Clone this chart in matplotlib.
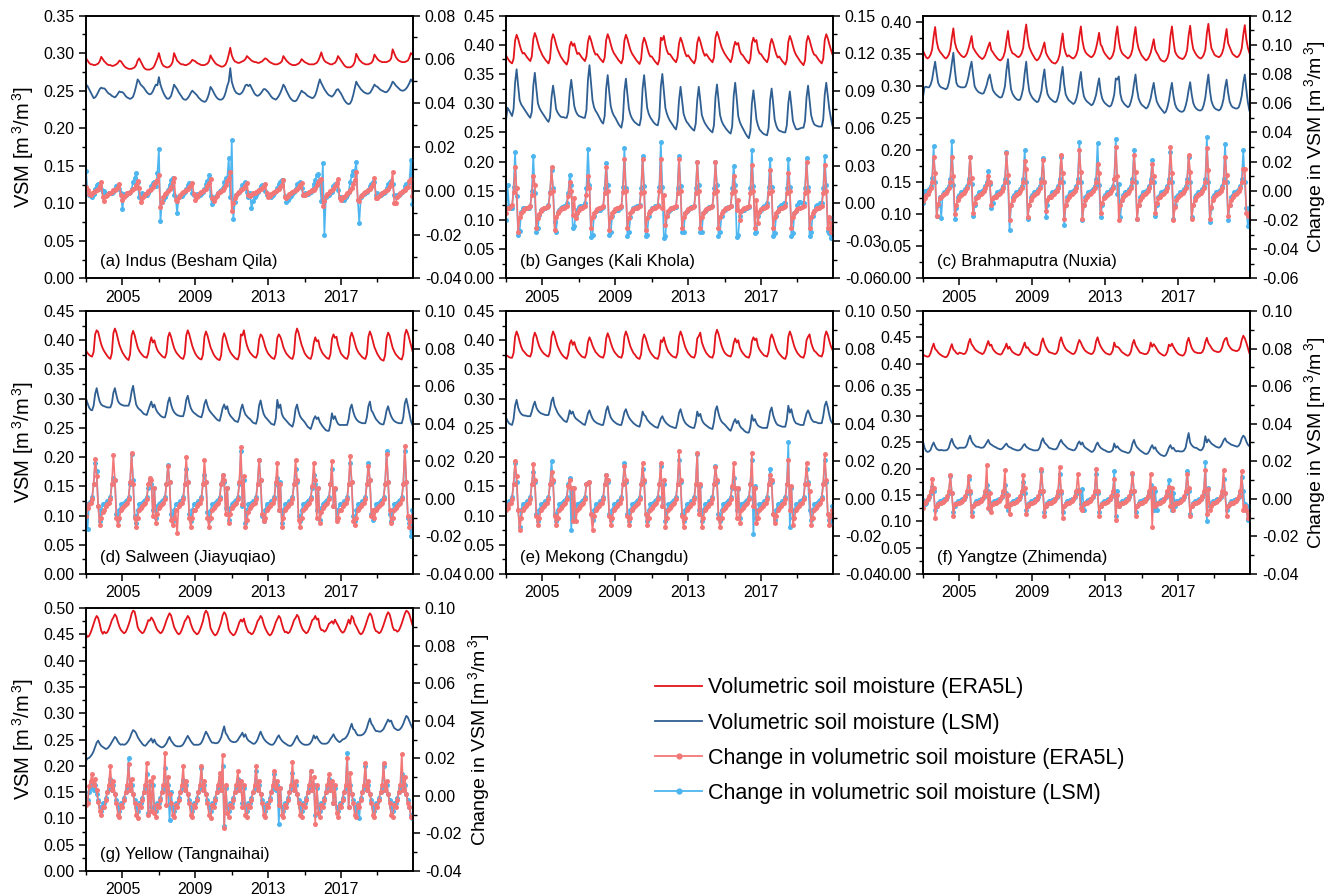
import numpy as np
import matplotlib.pyplot as plt
from matplotlib.lines import Line2D
from matplotlib.ticker import MultipleLocator, FixedLocator, FormatStrFormatter

plt.rcParams['font.family'] = ['Liberation Sans', 'DejaVu Sans']
plt.rcParams['mathtext.default'] = 'regular'
plt.rcParams['axes.unicode_minus'] = False

# monthly values Jan 2003 - Dec 2020, one row per year
# VSM in 1e-3 m3/m3, change in VSM in 1e-4 m3/m3

# (a) Indus
a_vsm_era5l = """
293 290 287 285 285 284 284 285 286 289 295 292
289 287 285 284 284 283 283 284 285 287 290 289
286 283 281 280 279 279 279 280 281 284 290 293
289 285 281 279 278 278 278 279 280 283 288 293
300 292 286 283 282 281 281 282 284 288 300 295
290 288 286 285 285 284 284 285 286 288 291 290
289 287 286 285 284 284 284 285 286 289 297 293
290 287 285 284 283 282 282 283 285 290 298 307
297 292 289 288 287 287 288 289 290 292 296 294
292 290 289 288 288 287 287 288 289 291 293 292
290 288 287 286 285 285 285 286 287 289 296 293
290 288 286 285 284 284 284 285 286 288 292 290
288 287 286 285 285 285 285 286 287 290 295 301
294 290 288 287 286 285 285 286 287 290 296 293
290 287 284 282 281 281 281 282 284 288 299 295
291 289 287 286 285 285 285 286 287 290 298 295
292 290 289 288 288 288 288 289 290 293 305 300
295 292 290 289 288 288 288 289 290 294 300 298
"""
a_vsm_lsm = """
258 256 252 248 244 240 241 244 248 252 254 253
253 251 248 246 245 243 242 241 243 246 249 248
248 246 243 241 240 239 240 242 248 256 265 262
258 256 254 251 248 246 245 246 249 254 258 257
268 258 252 247 243 240 239 240 243 250 258 255
252 248 245 242 239 238 238 240 243 247 250 248
246 244 241 239 237 236 235 236 240 246 255 252
248 244 241 239 238 238 239 242 248 256 262 280
262 255 250 247 246 245 246 248 252 257 258 256
258 254 250 246 244 243 244 246 249 252 252 250
248 245 242 240 239 238 240 243 247 252 258 255
250 246 242 239 237 236 236 238 242 246 250 248
247 245 243 242 241 240 241 244 250 258 265 260
256 252 249 246 244 243 242 244 247 251 252 249
246 242 238 235 233 232 233 237 244 253 262 258
255 252 250 248 247 246 246 247 250 254 258 256
255 253 251 250 249 248 248 250 253 257 262 260
257 255 253 251 250 250 251 253 256 260 265 262
"""
a_chg_era5l = """
18 5 -15 -20 -12 -6 0 4 10 22 40 -30
-45 -25 -18 -12 -8 -4 2 6 10 18 30 -20
-40 -30 -20 -12 -8 -4 2 8 14 28 45 15
-50 -35 -25 -15 -8 -2 4 10 18 30 40 50
70 -75 -50 -30 -15 -8 0 8 18 40 60 -40
-45 -30 -20 -12 -6 0 5 10 18 25 35 -15
-40 -28 -18 -10 -5 0 5 10 20 35 55 -35
-45 -32 -22 -12 -6 -2 4 12 25 45 60 85
-90 -55 -35 -20 -10 -4 2 8 15 22 35 -20
-25 -18 -12 -8 -4 0 4 8 12 22 30 -12
-30 -22 -14 -8 -4 0 5 10 18 28 50 -30
-35 -25 -16 -10 -5 0 4 10 18 25 35 -20
-20 -14 -10 -6 -2 2 6 12 25 40 50 55
-70 -45 -25 -15 -8 -2 4 10 20 35 55 -35
-40 -30 -28 -20 -10 -4 4 14 30 50 85 -40
-45 -25 -18 -12 -6 0 5 10 18 30 60 -35
-35 -22 -15 -8 -4 0 4 10 20 35 85 -55
-55 -30 -20 -10 -4 0 5 12 18 45 55 -25
"""
a_chg_lsm = """
90 -10 -20 -25 -30 -15 10 25 30 20 10 -5
0 -15 -20 -10 -10 -12 -5 10 20 25 10 -10
-85 -15 -20 -10 -8 -5 10 40 60 80 40 -30
-35 -10 -15 -20 -18 -10 5 20 35 40 20 80
190 -140 -50 -40 -30 -15 5 25 50 60 -20 -30
-100 -30 -25 -25 -15 -5 10 25 35 30 -10 -20
-20 -15 -25 -20 -15 -5 10 30 45 70 -25 -60
-35 -30 -20 -10 0 5 15 40 60 55 150 -30
230 -130 -50 -20 -10 -5 10 25 30 40 -5 -30
-10 -80 -45 -30 -20 -5 5 20 25 25 0 -20
-20 -25 -30 -20 -10 0 15 30 40 50 50 -25
-50 -40 -35 -25 -15 -5 10 30 35 40 15 -20
-10 -15 -15 -10 -5 5 30 50 70 75 40 -45
125 -200 -30 -25 -20 -10 -5 20 30 35 5 -30
-30 -40 -40 -30 -20 -5 40 70 90 90 130 -40
-145 -30 -20 -15 -10 -5 5 20 30 40 40 -20
-10 -20 -20 -10 -10 -5 15 30 40 45 30 -20
-30 -20 -20 -15 -5 0 20 30 35 40 140 -60
"""

# (b) Ganges
b_vsm_era5l = """
382 377 373 370 368 376 407 417 410 400 391 385
386 382 378 375 372 380 410 420 413 403 394 388
382 378 374 371 368 376 408 418 411 401 392 386
380 376 372 369 366 374 398 405 398 402 392 384
386 382 378 375 372 380 405 415 408 398 389 383
384 380 376 373 370 378 408 418 411 401 392 386
382 378 374 371 368 376 407 417 410 400 391 385
381 377 373 370 367 375 402 412 405 395 386 380
380 376 372 369 366 374 412 408 415 400 390 384
384 380 376 373 370 378 402 412 405 395 386 380
382 378 374 371 368 376 403 413 406 396 387 381
384 380 376 373 370 378 412 422 415 405 396 390
385 381 377 374 370 378 395 405 400 403 390 384
382 378 374 371 368 376 402 412 405 408 392 385
384 380 376 373 370 378 400 410 403 393 384 378
380 376 372 369 366 374 405 415 408 398 389 383
379 375 371 368 365 373 405 415 408 398 389 383
382 378 374 371 368 376 408 418 411 401 392 384
"""
b_vsm_lsm = """
270 292 288 283 278 290 335 358 330 305 298 294
290 286 282 278 275 285 330 352 325 300 292 287
283 279 275 271 268 276 310 330 312 290 284 280
277 276 276 275 275 285 320 340 318 295 286 281
278 277 276 275 275 288 340 365 335 305 293 287
283 278 273 268 265 278 325 348 320 295 285 279
275 270 265 261 258 272 320 342 315 290 280 274
270 267 265 263 262 275 325 348 320 292 282 276
272 268 265 263 262 276 328 350 322 292 282 275
270 266 262 258 255 268 305 328 305 282 274 268
265 261 258 255 253 265 305 328 305 280 272 266
262 258 255 252 250 262 310 332 306 280 270 264
260 256 253 250 248 260 312 335 308 278 268 262
257 252 247 243 240 252 300 322 298 272 262 255
252 249 247 246 245 258 305 325 300 272 262 256
253 252 251 250 250 262 300 320 296 270 262 256
255 256 257 258 258 270 310 330 305 280 270 264
262 261 260 260 260 272 315 335 312 290 275 262
"""
b_chg_era5l = """
-77 -40 -35 -25 -15 90 287 120 -230 -110 -80 -60
-45 -40 -35 -30 -20 70 217 150 -200 -120 -85 -60
-45 -40 -35 -30 -20 80 287 100 -210 -110 -80 -60
-45 -40 -35 -30 -20 60 170 100 -90 40 -120 -80
-50 -40 -35 -30 -20 70 217 120 -200 -110 -80 -60
-45 -40 -35 -30 -20 80 287 100 -210 -110 -80 -60
-45 -40 -35 -30 -20 90 357 100 -200 -120 -80 -60
-45 -40 -35 -30 -20 80 357 90 -210 -120 -80 -60
-45 -40 -35 -30 -20 100 357 -40 70 -170 -100 -60
-45 -40 -35 -30 -20 80 357 100 -200 -110 -80 -60
-45 -40 -35 -30 -20 80 333 100 -200 -110 -80 -60
-45 -40 -35 -30 -20 80 333 100 -200 -110 -80 -60
-45 -40 -35 -30 -20 80 217 100 -50 30 -130 -60
-45 -40 -35 -30 -20 80 310 100 -200 30 -160 -70
-45 -40 -35 -30 -20 80 263 100 -200 -110 -80 -60
-45 -40 -35 -30 -20 80 240 100 -200 -110 -80 -60
-45 -40 -35 -30 -20 80 333 100 -200 -110 -80 -60
-45 -40 -35 -30 -20 80 310 100 -200 -110 -230 -150
"""
b_chg_lsm = """
-133 150 -25 -40 -40 130 413 60 -250 -220 -70 -40
-40 -40 -40 -40 -20 100 380 80 -230 -200 -90 -50
-50 -40 -40 -30 -10 90 263 120 -150 -230 -70 -50
-40 -30 -20 -20 0 80 230 150 -200 -180 -90 -50
-30 -20 -20 -20 0 120 436 150 -270 -250 -100 -60
-50 -50 -50 -40 -30 120 324 150 -250 -230 -100 -60
-50 -50 -50 -40 -30 130 440 120 -260 -230 -110 -60
-40 -30 -20 -20 -10 120 380 140 -260 -250 -100 -60
-40 -40 -20 -20 -10 130 487 130 -280 -260 -100 -70
-50 -40 -40 -30 -30 120 380 140 -230 -230 -80 -60
-50 -40 -30 -30 -20 120 333 150 -230 -230 -80 -60
-50 -40 -30 -30 -20 120 333 150 -260 -230 -100 -60
-50 -40 -30 -30 -20 120 300 150 -270 -250 -100 -60
-50 -50 -40 -40 -30 120 427 140 -240 -230 -100 -70
-50 -30 -20 -10 0 130 357 130 -260 -240 -100 -60
-30 -10 -10 0 0 120 357 130 -260 -240 -80 -60
-10 10 10 0 0 120 366 130 -260 -230 -100 -60
-20 -10 -10 0 0 120 380 150 -220 -240 -280 -120
"""

# (c) Brahmaputra
c_vsm_era5l = """
355 350 345 343 345 349 357 377 392 370 359 354
351 348 345 343 345 349 357 375 390 368 359 354
351 348 346 345 347 351 359 368 378 360 356 352
349 346 344 342 344 348 355 362 368 356 353 349
346 343 341 340 342 346 354 371 386 364 356 351
350 348 346 345 347 351 359 381 396 374 361 355
350 346 342 340 342 346 352 360 368 352 347 343
340 337 336 335 337 341 349 367 382 360 351 346
348 346 344 343 345 349 357 378 393 371 359 353
350 348 346 345 347 351 359 370 383 365 361 354
350 347 344 342 344 348 356 378 393 371 358 352
349 347 345 343 345 349 357 377 392 370 359 353
348 345 342 340 342 346 352 362 373 357 352 348
343 340 339 338 340 344 352 378 393 371 354 349
346 344 343 342 344 348 356 379 394 372 358 353
349 346 344 343 345 349 357 382 397 375 359 354
349 347 346 345 347 351 359 374 389 367 361 355
350 348 346 345 347 351 359 380 395 373 360 352
"""
c_vsm_lsm = """
283 298 299 298 298 302 310 325 338 320 305 300
298 297 296 295 297 305 318 335 352 325 305 300
299 298 298 298 299 305 315 328 338 318 300 295
292 290 289 288 289 295 302 312 318 305 294 290
287 285 283 282 283 290 300 325 342 315 295 288
284 281 279 278 279 286 297 320 338 310 292 286
282 279 277 275 276 283 292 312 326 302 288 283
280 278 276 275 276 283 293 315 330 303 287 282
278 276 274 272 274 280 290 308 322 298 284 279
276 274 272 270 272 278 286 300 312 292 281 276
273 271 269 268 270 277 287 312 310 315 288 278
274 271 269 267 269 276 286 303 318 295 281 275
271 269 267 265 267 273 281 294 305 288 276 271
267 264 261 258 260 267 277 293 305 285 272 266
263 261 260 260 262 269 279 294 306 287 274 268
265 263 262 262 264 271 282 302 318 293 277 270
266 264 263 262 264 270 280 298 310 290 276 270
267 266 265 265 267 274 285 305 318 295 275 262
"""
c_chg_era5l = """
-73 -50 -30 -20 0 20 60 234 120 -170 -90 -50
-40 -30 -25 -15 0 20 60 234 100 -160 -100 -60
-40 -30 -25 -15 0 20 60 234 90 -150 -80 -50
-40 -30 -25 -15 0 20 50 102 60 -100 -50 -40
-40 -30 -25 -15 0 20 60 256 110 -200 -100 -60
-40 -30 -25 -15 0 20 60 203 150 -180 -100 -60
-40 -30 -25 -15 0 20 60 212 60 -140 -60 -40
-40 -30 -20 -10 0 20 60 247 120 -190 -100 -60
-40 -30 -25 -15 0 20 60 278 130 -190 -100 -60
-40 -30 -25 -15 0 20 60 181 120 -150 -80 -50
-40 -30 -25 -15 0 20 80 300 100 -200 -100 -60
-40 -30 -25 -15 0 20 60 243 130 -190 -100 -60
-40 -30 -25 -15 0 20 60 181 100 -150 -80 -50
-40 -30 -25 -15 0 20 60 300 120 -200 -110 -60
-40 -30 -25 -15 0 20 60 243 130 -190 -100 -60
-40 -30 -25 -15 0 20 60 291 140 -190 -110 -60
-40 -30 -25 -15 0 20 60 234 110 -170 -100 -60
-40 -30 -25 -15 0 20 60 146 150 -150 -170 -150
"""
c_chg_lsm = """
-80 0 0 0 10 30 90 304 60 -170 -100 -40
-183 -20 -10 0 10 30 80 344 40 -190 -120 -40
-30 -10 -10 0 10 30 80 234 50 -170 -100 -40
-30 -10 -10 0 10 30 60 138 50 -120 -80 -40
-30 -10 -10 0 10 30 80 269 60 -266 -100 -40
-30 -10 -10 0 10 30 80 278 60 -190 -100 -40
-30 -10 -10 0 10 30 80 225 60 -180 -100 -40
-30 -10 -10 0 10 30 80 234 60 -236 -100 -40
-30 -10 -10 0 10 30 80 331 60 -200 -100 -40
-30 -10 -10 0 10 30 80 326 40 -180 -100 -40
-30 -10 -10 0 10 30 80 357 -20 50 -180 -60
-30 -10 -10 0 10 30 80 278 60 -190 -100 -40
-30 -10 -10 0 10 30 80 208 60 -170 -100 -40
-30 -10 -10 0 10 30 80 265 60 -190 -100 -40
-30 -10 -10 0 10 30 80 234 60 -180 -100 -40
-30 -10 -10 0 10 30 80 366 60 -214 -120 -40
-30 -10 -10 0 10 30 80 322 60 -200 -100 -40
-30 -10 -10 0 10 30 80 278 60 -120 -244 -120
"""

# (d) Salween
d_vsm_era5l = """
382 378 375 373 372 380 410 417 414 403 393 386
381 377 373 370 368 378 412 420 413 402 392 385
379 375 371 368 366 376 408 416 409 398 388 382
378 375 372 371 370 378 395 405 396 400 390 383
379 376 373 371 370 378 405 413 406 396 387 381
377 374 371 369 368 376 408 417 410 400 390 383
377 373 370 368 367 375 406 415 408 398 388 382
376 372 369 367 366 374 403 412 405 395 386 380
376 373 370 368 367 376 410 408 417 402 391 384
379 376 373 371 370 377 401 410 407 399 389 382
377 374 371 369 368 376 404 410 406 398 388 382
377 374 371 369 368 377 410 420 413 402 392 385
378 374 371 369 368 376 395 405 398 400 388 382
377 374 371 369 368 376 402 410 404 406 392 384
377 374 371 369 368 376 405 413 406 396 387 381
377 374 371 369 368 376 406 415 408 398 388 382
376 372 368 366 365 374 404 413 408 397 387 381
376 373 370 368 367 376 409 418 412 402 392 382
"""
d_vsm_lsm = """
300 292 285 281 280 288 308 318 305 295 290 288
287 286 285 285 285 292 310 318 306 296 292 290
289 288 288 288 288 296 312 322 305 290 285 282
280 277 274 273 272 280 288 295 285 290 282 277
274 271 269 268 268 278 294 302 290 282 277 274
272 271 270 270 270 280 298 305 293 284 279 276
274 272 270 269 268 277 291 298 288 281 277 274
271 268 265 263 262 272 284 290 282 287 276 271
268 265 262 261 260 268 282 290 280 273 270 267
265 262 259 258 257 267 288 297 284 274 269 266
263 260 257 256 255 266 298 284 290 274 268 265
262 259 256 254 252 262 282 290 278 270 266 263
260 256 252 250 248 256 265 270 265 268 260 256
252 249 246 245 245 256 275 265 270 262 257 255
255 255 255 255 255 265 283 290 278 270 265 262
260 259 258 258 258 268 287 295 280 276 270 265
262 259 257 256 256 266 280 287 277 270 265 262
260 259 258 258 258 268 292 300 288 275 262 255
"""
d_chg_era5l = """
-89 -50 -30 -20 0 80 213 120 -40 -140 -100 -70
-60 -40 -30 -20 0 80 232 100 -100 -140 -100 -60
-50 -40 -30 -20 0 90 244 80 -100 -150 -100 -60
-50 -40 -30 -20 0 80 113 100 -90 60 -130 -80
-50 -40 -30 -20 0 80 176 90 -110 -140 -100 -60
-182 -40 -30 -20 0 80 222 90 -100 -150 -100 -60
-60 -40 -30 -20 0 80 207 90 -100 -150 -100 -60
-50 -40 -30 -20 0 80 129 100 -80 60 -130 -80
-50 -40 -30 -20 0 90 275 -30 120 -150 -110 -70
-50 -40 -30 -20 0 80 207 100 -80 -120 -100 -60
-50 -40 -30 -20 0 90 191 -60 80 -150 -100 -60
-50 -40 -30 -20 0 80 207 100 -110 -150 -100 -60
-50 -40 -30 -20 0 70 191 100 -100 60 -130 -70
-50 -40 -30 -20 0 80 200 -40 60 -120 -100 -60
-60 -40 -30 -20 0 80 228 90 -120 -140 -100 -60
-50 -40 -30 -20 0 80 176 100 -90 -60 -100 -60
-50 -40 -30 -20 0 80 241 90 -60 -130 -100 -60
-50 -40 -30 -20 0 80 281 90 -90 -150 -120 -90
"""
d_chg_lsm = """
-30 -160 -20 -10 10 80 191 150 -40 -120 -60 -30
-30 -20 -10 -5 10 80 113 100 -80 -110 -60 -30
-30 -20 -10 -5 10 80 238 100 -90 -130 -60 -30
-30 -20 -10 -5 10 60 98 80 -60 60 -100 -40
-30 -20 -10 -5 10 80 182 90 -80 -120 -60 -30
-30 -20 -10 -5 10 80 160 90 -80 -120 -60 -30
-30 -20 -10 -5 10 80 129 90 -70 -110 -60 -30
-30 -20 -10 -5 10 80 129 90 -50 60 -110 -50
-30 -20 -10 -5 10 80 253 -40 100 -130 -60 -30
-30 -20 -10 -5 10 80 207 100 -90 -120 -60 -30
-30 -20 -10 -5 10 80 113 -60 90 -130 -60 -30
-30 -20 -10 -5 10 80 160 90 -90 -120 -60 -30
-30 -20 -10 -5 10 60 129 80 -60 60 -110 -50
-30 -20 -10 -5 10 80 160 -40 50 -100 -60 -30
-30 -20 -10 -5 10 80 191 90 -90 -120 -60 -30
-30 -20 -10 -5 10 80 191 100 -80 -110 -60 -30
-30 -20 -10 -5 10 80 253 90 -80 -120 -60 -30
-30 -20 -10 -5 10 80 253 90 -100 -130 -198 -60
"""

# (e) Mekong
e_vsm_era5l = """
375 373 371 370 370 378 406 415 408 398 389 383
380 377 374 373 372 380 404 413 407 397 389 384
380 377 375 373 372 380 406 415 409 399 390 384
379 375 372 370 368 376 394 400 392 397 388 382
378 375 372 371 370 377 397 405 399 391 385 380
377 374 372 371 370 378 403 412 405 396 388 382
378 375 372 371 370 378 406 415 408 398 389 383
378 375 371 369 368 376 401 410 404 395 386 380
376 373 370 369 368 376 400 397 405 394 386 380
377 374 372 371 370 378 406 415 408 398 389 383
378 375 372 371 370 378 403 407 413 397 389 383
378 375 372 371 370 378 409 418 411 401 391 384
379 376 374 373 372 379 395 403 396 400 388 382
378 375 372 371 370 378 398 405 400 403 390 384
380 377 374 373 372 380 402 410 404 395 387 381
377 374 371 369 368 376 406 415 408 398 389 383
378 375 372 371 370 378 400 406 410 396 388 382
380 377 374 373 372 380 406 415 409 399 390 384
"""
e_vsm_lsm = """
268 262 258 256 255 265 288 298 285 278 274 272
271 271 270 270 270 278 288 295 285 280 277 275
274 273 272 272 272 282 296 302 288 282 276 272
269 266 263 261 260 268 280 274 278 270 266 264
262 260 258 256 255 264 275 280 272 266 262 260
258 257 256 255 255 266 280 287 276 268 264 261
259 257 256 255 255 265 277 282 274 268 264 261
258 256 254 253 252 262 278 272 270 264 261 258
256 254 252 251 250 258 266 270 264 260 257 255
253 252 251 250 250 261 276 282 272 264 259 256
254 252 251 250 250 260 278 270 274 264 259 256
254 252 250 249 248 260 280 287 275 266 261 258
256 253 250 247 245 252 260 265 258 262 254 250
248 245 243 242 242 252 272 262 265 258 254 252
251 250 250 250 250 262 278 285 272 264 258 255
254 253 252 252 252 264 288 276 282 270 262 258
257 256 255 255 255 265 275 280 274 266 262 260
260 259 258 258 258 270 288 295 285 272 262 258
"""
e_chg_era5l = """
-60 -50 -30 -20 0 80 200 120 -60 -167 -100 -60
-50 -40 -30 -20 0 80 185 100 -90 -140 -100 -60
-50 -40 -30 -20 0 80 144 100 -90 -140 -100 -60
-50 -40 -30 -20 0 70 98 60 -120 60 -120 -60
-50 -40 -30 -20 0 80 82 90 -80 -167 -90 -60
-50 -40 -30 -20 0 80 129 100 -90 -140 -100 -60
-50 -40 -30 -20 0 80 176 100 -90 -140 -100 -60
-50 -40 -30 -20 0 80 191 100 -80 -140 -100 -60
-50 -40 -30 -20 0 80 191 -40 100 -150 -100 -60
-50 -40 -30 -20 0 80 253 100 -90 -150 -100 -60
-50 -40 -30 -20 0 80 244 -80 80 -150 -100 -60
-50 -40 -30 -20 0 80 169 100 -100 -150 -100 -60
-50 -40 -30 -20 0 70 191 60 -100 60 -130 -60
-50 -40 -30 -20 0 80 244 -40 60 -130 -100 -60
-50 -40 -30 -20 0 80 129 100 -80 -130 -90 -60
-50 -40 -30 -20 0 80 207 -60 70 -140 -100 -60
-50 -40 -30 -20 0 80 191 80 40 -140 -100 -60
-50 -40 -30 -20 0 80 238 100 -80 -140 -90 -60
"""
e_chg_lsm = """
-30 -20 -10 -5 10 80 191 90 -60 -151 -60 -30
-30 -20 -10 -5 10 80 144 90 -80 -120 -60 -30
-30 -20 -10 -5 10 80 200 90 -80 -120 -60 -30
-30 -20 -10 -5 10 80 113 -167 60 -100 -60 -30
-30 -20 -10 -5 10 80 82 90 -80 -110 -60 -30
-30 -20 -10 -5 10 80 129 90 -80 -110 -60 -30
-30 -20 -10 -5 10 80 191 90 -80 -120 -60 -30
-30 -20 -10 -5 10 80 160 90 -80 -120 -60 -30
-30 -20 -10 -5 10 80 176 -40 80 -120 -60 -30
-30 -20 -10 -5 10 80 207 90 -80 -120 -60 -30
-30 -20 -10 -5 10 80 241 -60 70 -120 -60 -30
-30 -20 -10 -5 10 80 176 90 -80 -120 -60 -30
-30 -20 -10 -5 10 60 113 60 -60 50 -100 -30
-30 -20 -10 -5 10 80 207 -188 70 -100 -60 -30
-30 -20 -10 -5 10 80 160 90 -80 -110 -60 -30
-30 -20 -10 -5 10 80 300 -151 60 -100 -60 -30
-30 -20 -10 -5 10 80 160 90 -60 -110 -60 -30
-30 -20 -10 -5 10 80 207 90 -80 -110 -136 -40
"""

# (f) Yangtze
f_vsm_era5l = """
418 415 414 413 414 420 430 438 428 425 421 418
416 414 413 412 414 420 429 437 427 424 420 418
421 420 419 418 420 426 439 447 437 433 428 425
423 421 420 418 420 426 435 443 434 436 428 424
421 419 418 417 419 425 430 438 428 432 426 422
420 418 417 416 418 424 432 440 430 431 426 422
420 418 417 416 418 424 440 448 438 431 426 422
421 420 419 418 420 426 442 450 440 433 428 425
423 421 419 418 420 426 437 445 440 433 428 424
422 420 419 418 420 426 442 450 440 433 428 424
421 419 418 417 419 425 440 432 432 430 426 422
420 418 416 415 417 423 437 445 435 430 425 421
420 419 418 418 420 426 440 432 437 433 428 423
420 418 416 415 417 423 436 433 438 432 427 422
419 417 416 415 417 423 441 449 439 430 425 422
421 420 420 420 422 428 441 449 439 435 430 426
424 423 422 422 424 430 441 447 449 437 432 428
426 425 424 424 426 432 445 453 448 440 430 420
"""
f_vsm_lsm = """
252 240 234 232 233 236 244 250 243 238 236 235
236 235 235 235 236 240 250 257 248 243 240 238
240 240 240 240 241 246 256 263 253 248 245 242
242 241 240 240 241 245 250 255 248 246 244 242
241 239 238 237 238 241 245 248 243 241 240 238
237 236 235 235 236 239 244 247 242 240 238 237
236 235 235 235 236 241 252 258 250 247 244 240
239 238 237 237 238 243 250 255 249 246 243 240
238 237 236 235 236 240 248 252 246 250 243 240
238 236 234 232 233 237 245 250 244 240 238 236
235 233 232 232 233 236 248 240 243 239 236 234
233 232 231 230 231 236 248 255 246 241 238 235
233 231 229 228 229 233 240 245 238 241 234 231
228 226 225 224 226 232 240 245 238 240 235 233
234 233 233 233 235 240 255 268 250 245 242 240
240 238 236 235 237 243 262 250 256 252 248 246
244 242 241 240 242 247 254 258 252 250 248 246
245 244 243 242 244 249 258 263 260 252 246 243
"""
f_chg_era5l = """
-50 -20 -10 0 15 40 104 60 -100 -40 -30 -20
-20 -15 -10 0 15 40 126 30 -90 -30 -30 -20
-20 -15 -10 0 15 40 124 40 -90 -40 -30 -20
-20 -15 -10 0 15 40 180 -50 30 -70 -30 -20
-20 -15 -10 0 15 40 154 -40 20 -80 -30 -20
-20 -15 -10 0 15 40 126 60 -80 -40 -30 -20
-20 -15 -10 0 15 40 160 40 -90 -40 -30 -20
-20 -15 -10 0 15 40 168 40 -100 -40 -30 -20
-20 -15 -10 0 15 40 132 40 -50 -60 -30 -20
-20 -15 -10 0 15 40 160 40 -90 -40 -30 -20
-20 -15 -10 0 15 40 104 -112 20 -40 -30 -20
-20 -15 -10 0 15 40 140 40 -90 -40 -30 -20
-20 -15 -10 0 15 40 132 -148 60 -40 -30 -20
-20 -15 -10 0 15 40 62 -40 60 -60 -30 -20
-20 -15 -10 0 15 40 130 60 -90 -40 -30 -20
-20 -15 -10 0 15 40 152 -80 50 -60 -40 -20
-20 -15 -10 0 15 40 154 30 -90 -40 -30 -20
-20 -15 -10 0 15 40 146 -60 -40 -60 -100 -80
"""
f_chg_lsm = """
-8 -30 -20 0 10 30 62 40 -60 -40 -20 -10
-10 -5 0 0 10 30 124 30 -70 -40 -20 -10
-10 -5 0 0 10 30 104 30 -70 -40 -20 -10
-10 -5 0 0 10 30 76 40 -60 -20 -20 -10
-10 -5 0 0 10 30 76 30 -60 -30 -20 -10
-10 -5 0 0 10 30 90 30 -60 -30 -20 -10
-10 -5 0 0 10 30 146 40 -70 -40 -20 -10
-10 -5 0 0 10 30 132 30 -70 -40 -20 -10
-10 -5 0 0 10 30 48 30 -30 50 -60 -20
-10 -5 0 0 10 30 132 30 -70 -40 -20 -10
-10 -5 0 0 10 30 146 -92 40 -40 -20 -10
-10 -5 0 0 10 30 132 40 -70 -40 -20 -10
-10 -5 0 0 10 30 76 40 -60 40 -60 -20
-10 -5 0 0 10 30 98 30 -60 30 -40 -10
-10 -5 0 0 10 30 146 40 -80 -40 -20 -10
-10 -5 0 0 10 30 196 -120 60 -40 -20 -10
-10 -5 0 0 10 30 104 30 -60 -40 -20 -10
-10 -5 0 0 10 30 118 40 -30 -60 -110 -40
"""

# (g) Yellow
g_vsm_era5l = """
450 445 447 453 461 470 479 485 481 470 457 451
455 452 454 460 468 477 482 488 484 473 464 458
455 452 454 460 468 477 489 495 493 480 464 458
455 452 454 460 468 477 476 482 478 472 464 458
455 452 454 460 468 477 484 490 486 475 464 458
453 450 452 458 466 475 479 485 481 470 462 456
453 450 452 458 466 475 489 495 491 480 462 456
451 448 450 456 464 473 486 492 488 477 460 454
451 448 450 456 464 473 478 474 480 468 460 454
453 450 452 458 466 475 479 485 481 470 462 456
451 448 450 456 464 473 479 485 481 470 460 454
455 452 454 460 468 477 481 487 483 472 464 458
455 452 454 460 468 477 479 485 478 480 464 458
458 455 457 463 470 472 475 470 478 472 467 461
456 453 455 461 469 478 470 485 481 470 465 459
453 450 452 458 466 475 484 490 486 475 462 456
455 452 454 460 468 477 486 492 488 477 464 458
458 455 457 463 471 480 489 495 493 488 478 468
"""
g_vsm_lsm = """
210 214 215 218 222 228 236 244 248 242 238 236
234 232 233 236 240 245 250 255 252 246 242 240
241 240 241 244 248 254 262 268 266 262 255 250
246 242 239 238 241 245 248 252 244 250 243 240
238 236 235 236 239 243 250 255 248 244 240 238
237 237 237 238 241 246 252 257 252 247 243 240
240 240 240 241 244 250 258 265 260 254 248 244
244 243 243 244 248 254 265 275 262 258 252 248
246 245 245 246 249 254 258 263 255 260 252 248
246 244 242 242 245 250 258 265 258 252 248 245
243 241 240 240 243 248 254 258 252 248 245 243
241 239 238 238 241 246 252 257 250 246 243 241
240 240 240 241 244 249 258 252 256 250 246 243
242 242 242 243 246 251 255 260 254 250 247 245
247 250 251 253 257 263 272 280 270 268 262 258
258 258 259 261 265 272 282 290 280 276 270 266
266 265 265 267 270 276 282 288 284 286 278 272
270 268 268 270 274 280 288 295 292 285 278 272
"""
g_chg_era5l = """
-50 -40 50 80 118 60 90 30 -30 -80 -100 -60
-60 -20 20 60 160 30 80 10 -40 -100 -110 -50
-60 -20 20 60 168 30 90 10 -40 -100 -120 -50
-60 -20 20 60 174 -100 80 -80 100 -90 -110 -50
-60 -20 20 60 230 -50 100 10 -40 -100 -110 -50
-60 -20 20 60 160 30 80 10 -40 -100 -110 -50
-60 -20 20 60 160 30 80 10 -40 -100 -120 -50
-60 -20 20 60 120 30 216 -170 60 -90 -110 -50
-60 -20 20 60 132 30 80 -60 60 -100 -110 -50
-60 -20 20 60 160 30 80 10 -40 -100 -110 -50
-60 -20 20 60 132 40 80 -50 40 -100 -110 -50
-60 -20 20 60 182 30 80 10 -40 -100 -110 -50
-60 -20 20 60 132 30 100 -148 60 -90 -110 -50
-60 -20 20 60 118 30 80 -40 60 -90 -110 -50
-60 -20 20 60 202 -60 120 10 -40 -100 -110 -50
-60 -20 20 60 174 30 80 10 -40 -100 -110 -50
-60 -20 20 60 174 30 80 10 -40 -100 -110 -50
-60 -20 20 60 222 30 100 10 -40 -60 -110 -110
"""
g_chg_lsm = """
-30 -20 20 40 76 30 60 10 -20 -60 -80 -40
-40 -10 20 40 90 30 60 10 -20 -60 -80 -40
-40 -10 20 40 202 30 60 10 -20 -60 -80 -40
-40 -10 20 40 118 -90 60 -60 60 -60 -80 -40
-40 -10 20 40 146 30 60 -126 20 -60 -80 -40
-40 -10 20 40 82 30 60 10 -20 -60 -80 -40
-40 -10 20 40 146 30 60 10 -20 -60 -80 -40
-40 -10 20 40 100 30 160 -162 40 -60 -80 -40
-40 -10 20 40 90 30 60 -40 40 -60 -80 -40
-40 -10 20 40 132 30 60 10 -20 -60 -80 -40
-40 -10 20 40 118 30 60 -148 40 -60 -80 -40
-40 -10 20 40 121 30 60 10 -20 -60 -80 -40
-40 -10 20 40 132 30 60 -100 40 -60 -80 -40
-40 -10 20 40 90 30 60 -40 40 -60 -80 -40
-40 -10 20 40 230 -60 60 10 -20 -60 -80 -40
-120 -10 20 40 160 30 60 10 -20 -60 -80 -40
-40 -10 20 40 160 30 60 10 -20 -60 -80 -40
-40 -10 20 40 118 30 60 10 -20 -60 -100 -120
"""

labels = ['(a) Indus (Besham Qila)', '(b) Ganges (Kali Khola)', '(c) Brahmaputra (Nuxia)',
          '(d) Salween (Jiayuqiao)', '(e) Mekong (Changdu)', '(f) Yangtze (Zhimenda)',
          '(g) Yellow (Tangnaihai)']
left_ylim = [(0, 0.35), (0, 0.45), (0, 0.41), (0, 0.45), (0, 0.45), (0, 0.50), (0, 0.50)]
right_ylim = [(-0.04, 0.08), (-0.06, 0.15), (-0.06, 0.12), (-0.04, 0.10), (-0.04, 0.10),
              (-0.04, 0.10), (-0.04, 0.10)]
right_step = [0.02, 0.03, 0.02, 0.02, 0.02, 0.02, 0.02]
vsm_era5l = [a_vsm_era5l, b_vsm_era5l, c_vsm_era5l, d_vsm_era5l, e_vsm_era5l, f_vsm_era5l, g_vsm_era5l]
vsm_lsm = [a_vsm_lsm, b_vsm_lsm, c_vsm_lsm, d_vsm_lsm, e_vsm_lsm, f_vsm_lsm, g_vsm_lsm]
chg_era5l = [a_chg_era5l, b_chg_era5l, c_chg_era5l, d_chg_era5l, e_chg_era5l, f_chg_era5l, g_chg_era5l]
chg_lsm = [a_chg_lsm, b_chg_lsm, c_chg_lsm, d_chg_lsm, e_chg_lsm, f_chg_lsm, g_chg_lsm]

dates = 2003 + np.arange(216) / 12.0

c_era5l = '#e3141b'
c_lsm = '#2f5f92'
c_d_era5l = '#f47777'
c_d_lsm = '#4db5f0'


def parse(s, scale):
    return np.array(s.split(), dtype=float) * scale


fig = plt.figure(figsize=(13.34, 8.96), dpi=100)

col_x = [0.0645, 0.3793, 0.6919]
row_y = [0.6892, 0.3594, 0.0279]
w, h = 0.2451, 0.2935

unit = r'[m$^{\,3}$/m$^{\,3}$]'

for i in range(7):
    r, c = divmod(i, 3)
    ax = fig.add_axes([col_x[c], row_y[r], w, h])
    ax2 = ax.twinx()

    ax.plot(dates, parse(vsm_era5l[i], 1e-3), color=c_era5l, lw=1.3)
    ax.plot(dates, parse(vsm_lsm[i], 1e-3), color=c_lsm, lw=1.3)
    ax2.plot(dates, parse(chg_lsm[i], 1e-4), color=c_d_lsm, lw=1.2,
             marker='o', ms=3.6, mec='none')
    ax2.plot(dates, parse(chg_era5l[i], 1e-4), color=c_d_era5l, lw=1.2,
             marker='o', ms=3.6, mec='none')

    ax.set_xlim(2003, 2020.95)
    ax.set_ylim(*left_ylim[i])
    ax2.set_ylim(*right_ylim[i])

    ax.xaxis.set_major_locator(FixedLocator([2005, 2009, 2013, 2017]))
    ax.xaxis.set_minor_locator(FixedLocator([2003, 2007, 2011, 2015, 2019]))
    ax.xaxis.set_major_formatter(FormatStrFormatter('%d'))
    ax.yaxis.set_major_locator(MultipleLocator(0.05))
    ax.yaxis.set_minor_locator(MultipleLocator(0.025))
    ax.yaxis.set_major_formatter(FormatStrFormatter('%.2f'))
    ax2.yaxis.set_major_locator(MultipleLocator(right_step[i]))
    ax2.yaxis.set_minor_locator(MultipleLocator(right_step[i] / 2))
    ax2.yaxis.set_major_formatter(FormatStrFormatter('%.2f'))

    for a in (ax, ax2):
        a.tick_params(which='major', direction='out', length=5, width=1.1, labelsize=11.5)
        a.tick_params(which='minor', direction='out', length=3, width=1.0)
        for sp in a.spines.values():
            sp.set_linewidth(1.2)
    ax.tick_params(axis='y', which='both', right=False)
    ax.tick_params(axis='x', which='both', top=False, pad=3)
    ax2.tick_params(axis='y', which='both', left=False)

    ax.text(0.043, 0.035, labels[i], transform=ax.transAxes, fontsize=12,
            ha='left', va='bottom')

    if c == 0:
        ax.set_ylabel('VSM ' + unit, fontsize=14.5, labelpad=5)
    if c == 2 or i == 6:
        ax2.set_ylabel('Change in VSM ' + unit, fontsize=14, labelpad=3)

handles = [
    Line2D([], [], color=c_era5l, lw=1.3),
    Line2D([], [], color=c_lsm, lw=1.3),
    Line2D([], [], color=c_d_era5l, lw=1.3, marker='o', ms=4.5, mec='none'),
    Line2D([], [], color=c_d_lsm, lw=1.3, marker='o', ms=4.5, mec='none'),
]
names = ['Volumetric soil moisture (ERA5L)', 'Volumetric soil moisture (LSM)',
         'Change in volumetric soil moisture (ERA5L)', 'Change in volumetric soil moisture (LSM)']
fig.legend(handles, names, loc='upper left', bbox_to_anchor=(0.491, 0.244),
           frameon=False, fontsize=15.5, handlelength=2.2, handletextpad=0.25,
           labelspacing=0.66, borderpad=0, borderaxespad=0)

fig.savefig('out.png', dpi=100, facecolor='white')
